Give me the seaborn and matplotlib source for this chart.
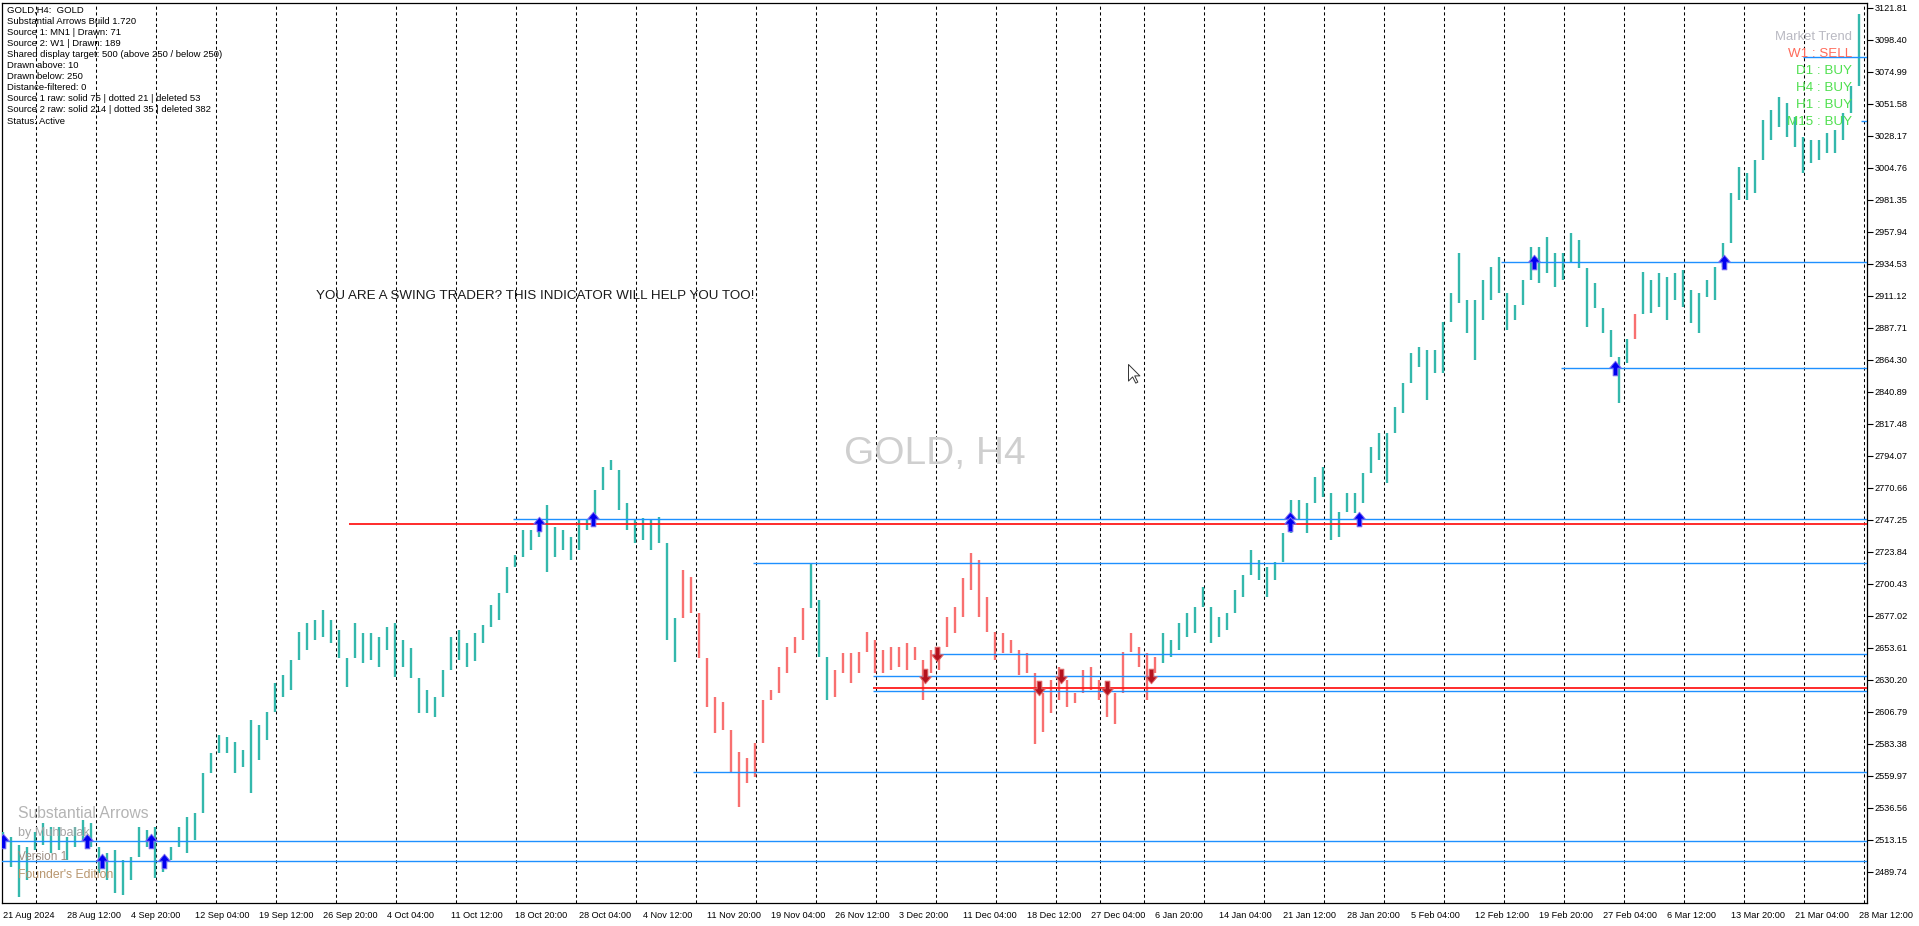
import numpy as np
import pandas as pd
import matplotlib
matplotlib.use("Agg")
import matplotlib.pyplot as plt
from matplotlib.path import Path
import seaborn as sns

# GOLD H4, every 4th bar (bar 0 = 21 Aug 2024), high / low
bar_step = 4
bar_high = [
    2518.9, 2515.3, 2509.2, 2507.9, 2518.9, 2525.0, 2522.6, 2522.6, 2515.3, 2522.6,
    2527.5, 2525.0, 2505.5, 2503.1, 2505.5, 2498.2, 2498.2, 2522.6, 2520.1, 2522.6,
    2500.6, 2507.9, 2522.6, 2529.9, 2522.6, 2561.6, 2576.2, 2589.7, 2588.4, 2584.8,
    2578.7, 2600.6, 2597.0, 2600.6, 2627.5, 2633.6, 2639.7, 2665.3, 2671.4, 2673.8,
    2681.1, 2673.8, 2666.5, 2644.5, 2671.4, 2664.0, 2664.0, 2661.6, 2668.9, 2671.4,
    2659.2, 2653.1, 2625.0, 2622.6, 2617.7, 2637.2, 2661.6, 2666.5, 2656.7, 2664.0,
    2670.1, 2684.8, 2688.4, 2712.8, 2721.4, 2739.6, 2739.6, 2747.0, 2757.9, 2742.1,
    2739.6, 2734.8, 2747.0, 2747.0, 2766.5, 2786.0, 2790.9, 2783.5, 2759.2, 2747.0,
    2748.2, 2747.0, 2749.4, 2727.5, 2668.9, 2710.4, 2705.5, 2676.2, 2627.5, 2617.7,
    2614.0, 2586.0, 2577.5, 2572.6, 2576.2, 2615.3, 2622.6, 2639.7, 2654.3, 2661.6,
    2678.7, 2715.3, 2688.4, 2634.8, 2637.2, 2649.4, 2649.4, 2649.4, 2665.3, 2659.2,
    2651.8, 2654.3, 2654.3, 2656.7, 2654.3, 2644.5, 2651.8,
    2654.3, 2676.2, 2683.5, 2704.3, 2722.6, 2717.7, 2690.8, 2664.0, 2664.0, 2659.1,
    2651.8, 2649.4, 2629.9, 2620.1, 2629.9, 2639.6, 2629.9, 2620.1, 2637.2, 2639.6,
    2629.9, 2627.4, 2620.1, 2649.4, 2664.0, 2654.3, 2649.4, 2646.9, 2664.0, 2659.1,
    2671.3, 2678.6, 2683.5, 2698.2, 2683.5, 2676.2, 2678.6, 2695.7, 2703.0, 2725.0,
    2717.7, 2712.8, 2715.2, 2734.7, 2761.6, 2761.6, 2756.7, 2778.6, 2785.9, 2766.5,
    2751.8, 2766.5, 2766.5, 2776.2, 2800.6, 2810.4, 2810.4, 2829.9, 2842.0,
    2868.9, 2873.8, 2871.3, 2871.3, 2886.0, 2912.8, 2942.1, 2907.9, 2907.9, 2922.6,
    2932.3, 2939.6, 2907.9, 2900.6, 2922.6, 2946.9, 2946.9, 2954.3, 2942.1, 2942.1,
    2956.7, 2951.8, 2929.9, 2920.1, 2900.6, 2886.0, 2864.0, 2876.2, 2894.5, 2928.6,
    2922.6, 2927.4, 2925.0, 2927.4, 2929.9, 2915.2, 2912.8, 2922.6, 2932.3, 2946.9,
    2986.0, 3005.5, 3000.6, 3005.5, 3039.6, 3046.9, 3056.7, 3051.8, 3042.0, 3027.4,
    3025.0, 3025.0, 3029.9, 3032.3, 3044.5, 3061.6, 3117.0,
]
bar_low = [
    2507.9, 2493.3, 2471.4, 2483.6, 2505.5, 2509.2, 2503.1, 2505.5, 2498.2, 2507.9,
    2512.8, 2510.4, 2488.4, 2483.6, 2473.8, 2472.6, 2483.6, 2503.1, 2507.9, 2484.8,
    2489.7, 2498.2, 2507.9, 2503.1, 2512.8, 2542.1, 2561.6, 2576.2, 2576.2, 2561.6,
    2566.5, 2547.0, 2571.4, 2586.0, 2612.8, 2617.7, 2622.6, 2649.4, 2651.9, 2659.2,
    2661.6, 2656.7, 2647.0, 2625.0, 2647.0, 2642.1, 2644.5, 2639.7, 2651.9, 2632.3,
    2639.7, 2637.2, 2605.5, 2605.5, 2603.1, 2617.7, 2637.2, 2644.5, 2639.7, 2644.0,
    2656.7, 2668.9, 2673.8, 2698.2, 2712.8, 2720.1, 2725.0, 2734.8, 2709.2, 2720.1,
    2725.0, 2717.7, 2725.0, 2739.6, 2747.0, 2771.4, 2783.5, 2754.3, 2739.6, 2729.9,
    2732.3, 2725.0, 2732.3, 2659.2, 2643.3, 2681.1, 2681.1, 2664.0, 2610.4, 2590.9,
    2600.6, 2561.6, 2537.2, 2554.3, 2559.2, 2590.9, 2615.3, 2620.1, 2634.8, 2649.4,
    2659.2, 2686.0, 2659.2, 2615.3, 2617.7, 2634.8, 2627.5, 2634.8, 2651.8, 2634.8,
    2634.8, 2637.2, 2639.7, 2637.2, 2644.5, 2615.3, 2634.8,
    2637.2, 2654.3, 2664.0, 2676.2, 2695.7, 2676.2, 2666.5, 2644.5, 2649.4, 2649.4,
    2633.5, 2639.6, 2583.0, 2592.0, 2605.5, 2615.3, 2610.4, 2612.8, 2620.1, 2622.6,
    2615.3, 2603.0, 2598.0, 2620.1, 2651.8, 2639.6, 2615.3, 2634.7, 2642.1, 2646.9,
    2651.8, 2661.6, 2664.0, 2683.5, 2656.7, 2661.6, 2666.5, 2678.6, 2690.8, 2710.4,
    2703.0, 2690.8, 2703.0, 2717.7, 2739.6, 2746.9, 2737.2, 2761.6, 2764.0, 2732.3,
    2734.7, 2754.2, 2751.8, 2759.1, 2786.0, 2790.8, 2773.7, 2810.4, 2825.0,
    2851.8, 2859.1, 2834.8, 2854.3, 2854.3, 2898.2, 2905.5, 2883.5, 2864.0, 2893.3,
    2907.9, 2917.7, 2886.0, 2893.3, 2907.9, 2922.6, 2920.1, 2927.4, 2917.7, 2922.6,
    2934.7, 2932.3, 2888.4, 2903.0, 2883.5, 2868.9, 2832.3, 2861.6, 2882.3, 2900.6,
    2898.2, 2903.0, 2893.3, 2907.9, 2903.0, 2890.8, 2883.5, 2910.3, 2907.9, 2932.3,
    2951.8, 2981.1, 2981.1, 2986.0, 3015.2, 3025.0, 3034.7, 3027.4, 3020.1, 3000.6,
    3007.9, 3010.3, 3015.2, 3015.2, 3025.0, 3044.5, 3068.0,
]

# bar ranges painted in the bearish colour
bear_spans = [(339, 403), (414, 579), (816, 818)]

price_ticks = [
    2489.74, 2513.15, 2536.56, 2559.97, 2583.38, 2606.79, 2630.20, 2653.61, 2677.02, 2700.43,
    2723.84, 2747.25, 2770.66, 2794.07, 2817.48, 2840.89, 2864.30, 2887.71, 2911.12, 2934.53,
    2957.94, 2981.35, 3004.76, 3028.17, 3051.58, 3074.99, 3098.40, 3121.81,
]
date_labels = [
    "21 Aug 2024", "28 Aug 12:00", "4 Sep 20:00", "12 Sep 04:00", "19 Sep 12:00",
    "26 Sep 20:00", "4 Oct 04:00", "11 Oct 12:00", "18 Oct 20:00", "28 Oct 04:00",
    "4 Nov 12:00", "11 Nov 20:00", "19 Nov 04:00", "26 Nov 12:00", "3 Dec 20:00",
    "11 Dec 04:00", "18 Dec 12:00", "27 Dec 04:00", "6 Jan 20:00", "14 Jan 04:00",
    "21 Jan 12:00", "28 Jan 20:00", "5 Feb 04:00", "12 Feb 12:00", "19 Feb 20:00",
    "27 Feb 04:00", "6 Mar 12:00", "13 Mar 20:00", "21 Mar 04:00", "28 Mar 12:00",
]
label_every = 32
week_starts = [17, 47, 77, 107, 137, 167, 197, 227, 257, 287, 317, 347, 377, 407, 437, 467,
               497, 527, 549, 571, 601, 631, 661, 691, 721, 751, 781, 811, 841, 871, 901, 931]

# levels drawn by the indicator
level_price = [2747.4, 2743.8, 2715.3, 2562.8, 2648.7, 2632.6, 2623.8, 2621.9,
               2936.0, 2857.9, 3085.4, 3038.9, 2512.5, 2497.2]
level_start = [255, 173, 375, 345, 465, 435, 435, 435, 749, 779, 900, 929, -1, -1]
level_kind = ["blue", "red", "blue", "blue", "blue", "blue", "red", "blue",
              "blue", "blue", "blue", "blue", "blue", "blue"]

buy_bar = [0, 42, 49.5, 74, 80.5, 268, 295, 643.5, 643.5, 678, 765.5, 806, 860.5]
buy_price = [2512.5, 2512.5, 2497.2, 2512.5, 2497.2, 2743.8, 2747.4, 2747.4, 2743.8,
             2747.4, 2936.0, 2857.9, 2936.0]
sell_bar = [461, 467, 518, 529, 552, 574]
sell_price = [2632.6, 2648.7, 2623.8, 2632.6, 2623.8, 2632.6]

info_lines = [
    "GOLD,H4:  GOLD",
    "Substantial Arrows Build 1.720",
    "Source 1: MN1 | Drawn: 71",
    "Source 2: W1 | Drawn: 189",
    "Shared display target: 500 (above 250 / below 250)",
    "Drawn above: 10",
    "Drawn below: 250",
    "Distance-filtered: 0",
    "Source 1 raw: solid 75 | dotted 21 | deleted 53",
    "Source 2 raw: solid 214 | dotted 35 | deleted 382",
    "Status: Active",
]
trend_rows = ["W1 : SELL", "D1 : BUY", "H4 : BUY", "H1 : BUY", "M15 : BUY"]
signature = ["Substantial Arrows", "by Muhbalak", "Version 1", "Founder's Edition"]

teal = "#34b8ac"
salmon = "#f87070"
blue_line = "#1e90ff"

sns.set_style("white")
plt.rcParams["font.family"] = ["Liberation Sans", "DejaVu Sans"]

bars = pd.DataFrame({"high": bar_high, "low": bar_low})
bars["bar"] = np.arange(len(bars)) * bar_step
bars["bear"] = False
for a, b in bear_spans:
    bars.loc[bars["bar"].between(a, b), "bear"] = True
bars["color"] = np.where(bars["bear"], salmon, teal)

# the bars skipped between two samples bridge any gap, so stretch each
# sample half way toward its neighbour when the two do not overlap
top = bars["high"].to_numpy().copy()
bot = bars["low"].to_numpy().copy()
for k in range(len(bars) - 1):
    h0, l0, h1, l1 = bar_high[k], bar_low[k], bar_high[k + 1], bar_low[k + 1]
    if l1 > h0:
        mid = (h0 + l1) / 2
        top[k] = max(top[k], mid)
        bot[k + 1] = min(bot[k + 1], mid)
    elif h1 < l0:
        mid = (l0 + h1) / 2
        bot[k] = min(bot[k], mid)
        top[k + 1] = max(top[k + 1], mid)
bars["top"] = top
bars["bot"] = bot

W, H = 1919, 926
fig = plt.figure(figsize=(W / 100, H / 100), dpi=100)
ax = fig.add_axes([2 / W, 23 / H, 1864.7 / W, 900 / H])
ax.set_xlim(-0.5, 931.85)
ax.set_ylim(2466.8, 3125.2)


def fx(px):
    return (px - 2) / 1864.7


def fy(py):
    return (903 - py) / 900


# week separators
ax.vlines(np.array(week_starts) - 0.3, 2466.8, 3125.2, colors="black",
          linewidth=0.75, linestyles=(0, (3, 2.5)), zorder=1)

# price bars
ax.vlines(bars["bar"], bars["bot"], bars["top"], colors=bars["color"],
          linewidth=1.7, zorder=3)

# indicator levels
for p, s, k in zip(level_price, level_start, level_kind):
    if k == "red":
        ax.hlines(p, s, 931.85, colors="#ff1a1a", linewidth=1.3, zorder=4)
    else:
        ax.hlines(p, s, 931.85, colors=blue_line, linewidth=1.0, zorder=4)

up_arrow = Path([(0, 1), (0.8, 0.05), (0.32, 0.05), (0.32, -1), (-0.32, -1),
                 (-0.32, 0.05), (-0.8, 0.05), (0, 1)],
                [Path.MOVETO] + [Path.LINETO] * 6 + [Path.CLOSEPOLY])
down_arrow = Path(up_arrow.vertices * np.array([1, -1]), up_arrow.codes)

sns.scatterplot(x=buy_bar, y=buy_price, marker=up_arrow, s=110, color="#0000f0",
                edgecolor="#7d6cf0", linewidth=0.7, ax=ax, zorder=6)
sns.scatterplot(x=sell_bar, y=sell_price, marker=down_arrow, s=110, color="#b4121e",
                edgecolor="#e06a6a", linewidth=0.7, ax=ax, zorder=6)

# axes look like the terminal
ax.yaxis.tick_right()
ax.set_yticks(price_ticks)
ax.set_yticklabels([f"{p:.2f}" for p in price_ticks])
ax.set_xticks([label_every * k for k in range(len(date_labels))])
ax.set_xticklabels(date_labels, ha="left")
ax.tick_params(axis="both", direction="out", length=4, width=0.8, colors="black",
               labelsize=6.6, pad=1.5)
ax.tick_params(axis="x", pad=2)
for sp in ax.spines.values():
    sp.set_color("black")
    sp.set_linewidth(0.9)
ax.set_xlabel("")
ax.set_ylabel("")
ax.grid(False)

# texts
for k, line in enumerate(info_lines):
    ax.text(fx(7), fy(10 + 11.1 * k), line, transform=ax.transAxes, fontsize=6.8,
            color="black", va="center", ha="left", zorder=7)

ax.text(0.5, fy(454), "GOLD, H4", transform=ax.transAxes, fontsize=28,
        color="#cfcfcf", ha="center", va="center", zorder=2)
ax.text(fx(316), fy(296), "YOU ARE A SWING TRADER? THIS INDICATOR WILL HELP YOU TOO!",
        transform=ax.transAxes, fontsize=9.6, color="#1a1a1a", ha="left", va="center",
        zorder=7)

ax.text(fx(1852), fy(37), "Market Trend", transform=ax.transAxes, fontsize=9.4,
        color="#b9b9c2", ha="right", va="center", zorder=7)
for k, row in enumerate(trend_rows):
    col = "#ff6a5a" if "SELL" in row else "#4fe04f"
    ax.text(fx(1852), fy(54 + 17 * k), row, transform=ax.transAxes, fontsize=9.6,
            color=col, ha="right", va="center", zorder=7)

sig_y = [814, 833, 857, 875]
sig_size = [11.3, 9.1, 8.5, 8.8]
sig_color = ["#b4b4b4", "#a6a6a6", "#9c8e84", "#b8966e"]
for txt, yy, fs, col in zip(signature, sig_y, sig_size, sig_color):
    ax.text(fx(18), fy(yy), txt, transform=ax.transAxes, fontsize=fs, color=col,
            ha="left", va="center", zorder=7)

# mouse pointer left in the screenshot (tip at the path origin)
cursor = Path([(0, 0), (0, -16), (4, -12), (7, -18), (9, -17), (6, -11), (11, -11), (0, 0)],
              [Path.MOVETO] + [Path.LINETO] * 6 + [Path.CLOSEPOLY])
ax.scatter([fx(1128)], [fy(364)], marker=cursor, s=720, facecolor="white",
           edgecolor="#333333", linewidth=0.7, transform=ax.transAxes, zorder=8)

fig.savefig("out.png", dpi=100)
